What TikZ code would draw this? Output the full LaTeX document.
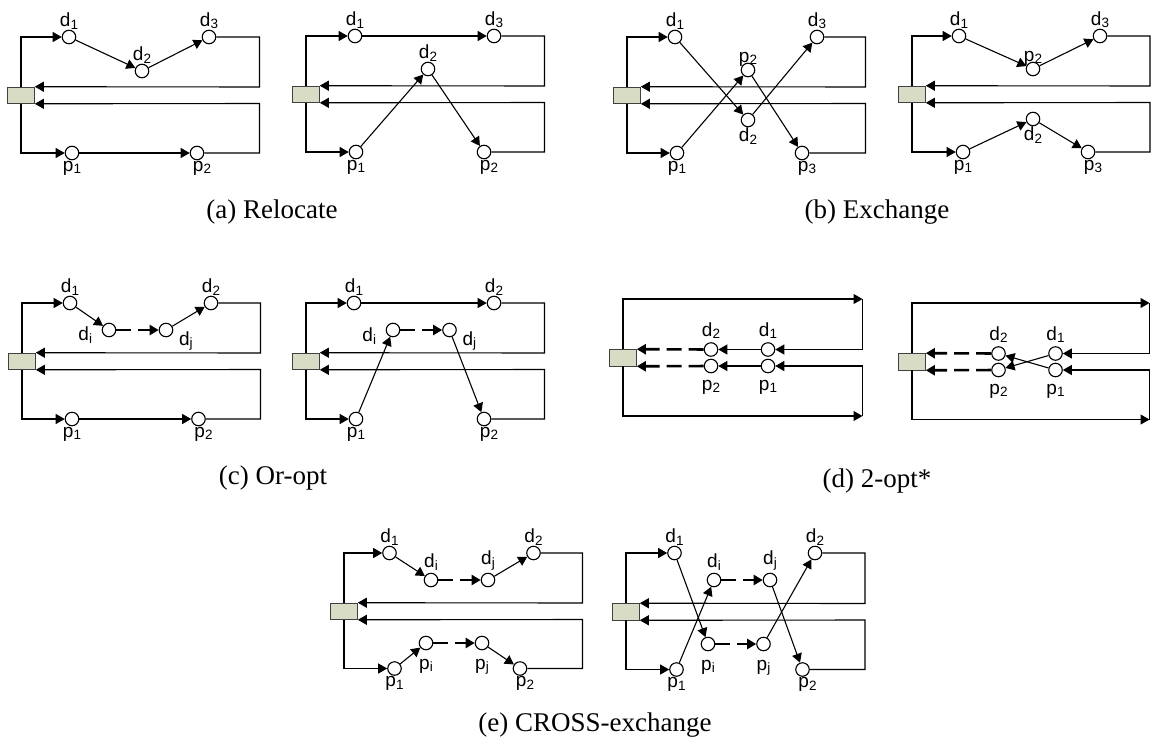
\documentclass[tikz,border=0pt]{standalone}
\usepackage{fontspec}
\setmainfont{Liberation Serif}
\newfontfamily\sansfam{Liberation Sans}
\usetikzlibrary{arrows.meta}
\definecolor{depotgreen}{RGB}{216,220,196}
\newcommand{\labsize}{\sansfam\fontsize{19}{20}\selectfont}
\newcommand{\capsize}{\fontsize{27}{30}\selectfont}
\newcommand{\lsub}[1]{\raisebox{-2.5pt}{\fontsize{13.5}{14}\selectfont #1}}

\begin{document}
\begin{tikzpicture}[x=1pt,y=-1pt,line join=miter,
  stop/.style={circle,draw,fill=white,line width=1.1pt,minimum size=13.5pt,inner sep=0pt},
  depot/.style={draw=black!75,fill=depotgreen,line width=0.6pt,minimum width=27pt,minimum height=16.5pt,inner sep=0pt},
  go/.style={line width=1.1pt,-{Triangle[length=9pt,width=10pt]}},
  link/.style={go,line width=2.6pt,dash pattern=on 15pt off 7pt},
  lab/.style={font=\labsize,inner sep=0.5pt},
  captext/.style={font=\capsize,anchor=base}]
  \useasboundingbox (0,0) rectangle (1154,745);

  % (a) relocate, before
  \begin{scope}[shift={(21,37)}]
    \node[depot] (dep) at (0,58.25) {};
    \node[stop,label={[lab]above:d\lsub{1}}] (d1) at (48,0) {};
    \node[stop,label={[lab]above:d\lsub{2}}] (d2) at (121,34) {};
    \node[stop,label={[lab]above:d\lsub{3}}] (d3) at (188,0) {};
    \node[stop,label={[lab]below:p\lsub{1}}] (p1) at (51,116) {};
    \node[stop,label={[lab,xshift=5pt]below:p\lsub{2}}] (p2) at (176,116) {};
    \draw[go] (dep.north) |- (d1); \draw[go] (d1) -- (d2); \draw[go] (d2) -- (d3);
    \draw[go] (d3) -| (238.5,50) -- (dep.north east);
    \draw[go] (dep.south) |- (p1); \draw[go] (p1) -- (p2);
    \draw[go] (p2) -| (238.5,66.5) -- (dep.south east);
  \end{scope}
  % (a) relocate, after
  \begin{scope}[shift={(306,36)}]
    \node[depot] (dep) at (0,58.25) {};
    \node[stop,label={[lab]above:d\lsub{1}}] (d1) at (49,0) {};
    \node[stop,label={[lab]above:d\lsub{2}}] (d2) at (122,33) {};
    \node[stop,label={[lab]above:d\lsub{3}}] (d3) at (188,0) {};
    \node[stop,label={[lab]below:p\lsub{1}}] (p1) at (50,116) {};
    \node[stop,label={[lab,xshift=5pt]below:p\lsub{2}}] (p2) at (178,116) {};
    \draw[go] (dep.north) |- (d1); \draw[go] (d1) -- (d3);
    \draw[go] (d3) -| (238.5,50) -- (dep.north east);
    \draw[go] (dep.south) |- (p1); \draw[go] (p1) -- (d2); \draw[go] (d2) -- (p2);
    \draw[go] (p2) -| (238.5,66.5) -- (dep.south east);
  \end{scope}
  \node[captext] (capa) at (272,218) {(a) Relocate};

  % (b) exchange, before
  \begin{scope}[shift={(627,37)}]
    \node[depot] (dep) at (0,58.25) {};
    \node[stop,label={[lab]above:d\lsub{1}}] (d1) at (48,0) {};
    \node[stop,label={[lab]below:d\lsub{2}}] (d2) at (121,83) {};
    \node[stop,label={[lab]above:d\lsub{3}}] (d3) at (190,0) {};
    \node[stop,label={[lab]below:p\lsub{1}}] (p1) at (50,116) {};
    \node[stop,label={[lab,yshift=-4pt]above:p\lsub{2}}] (p2) at (121,33) {};
    \node[stop,label={[lab,xshift=5pt]below:p\lsub{3}}] (p3) at (175,116) {};
    \draw[go] (dep.north) |- (d1); \draw[go] (d1) -- (d2); \draw[go] (d2) -- (d3);
    \draw[go] (d3) -| (238.5,50) -- (dep.north east);
    \draw[go] (dep.south) |- (p1); \draw[go] (p1) -- (p2); \draw[go] (p2) -- (p3);
    \draw[go] (p3) -| (238.5,66.5) -- (dep.south east);
  \end{scope}
  % (b) exchange, after
  \begin{scope}[shift={(912,36)}]
    \node[depot] (dep) at (0,58.25) {};
    \node[stop,label={[lab]above:d\lsub{1}}] (d1) at (47,0) {};
    \node[stop,label={[lab]below:d\lsub{2}}] (d2) at (121,83) {};
    \node[stop,label={[lab]above:d\lsub{3}}] (d3) at (188,0) {};
    \node[stop,label={[lab]below:p\lsub{1}}] (p1) at (51,116) {};
    \node[stop,label={[lab,yshift=-4pt]above:p\lsub{2}}] (p2) at (121,33) {};
    \node[stop,label={[lab,xshift=5pt]below:p\lsub{3}}] (p3) at (176,116) {};
    \draw[go] (dep.north) |- (d1); \draw[go] (d1) -- (p2); \draw[go] (p2) -- (d3);
    \draw[go] (d3) -| (238,50) -- (dep.north east);
    \draw[go] (dep.south) |- (p1); \draw[go] (p1) -- (d2); \draw[go] (d2) -- (p3);
    \draw[go] (p3) -| (238,66.5) -- (dep.south east);
  \end{scope}
  \node[captext] (capb) at (877,218) {(b) Exchange};

  % (c) or-opt, before
  \begin{scope}[shift={(22,303)}]
    \node[depot] (dep) at (0,58.25) {};
    \node[stop,label={[lab]above:d\lsub{1}}] (d1) at (48,0) {};
    \node[stop,label={[lab,xshift=-9pt,yshift=-5pt]left:d\lsub{i}}] (di) at (87,27) {};
    \node[stop,label={[lab,xshift=5pt,yshift=-11pt]right:d\lsub{j}}] (dj) at (144,27) {};
    \node[stop,label={[lab]above:d\lsub{2}}] (d2) at (189,0) {};
    \node[stop,label={[lab]below:p\lsub{1}}] (p1) at (50,116) {};
    \node[stop,label={[lab,xshift=5pt]below:p\lsub{2}}] (p2) at (176.5,116) {};
    \draw[go] (dep.north) |- (d1); \draw[go] (d1) -- (di); \draw[link] (di) -- (dj);
    \draw[go] (dj) -- (d2);
    \draw[go] (d2) -| (238.5,50) -- (dep.north east);
    \draw[go] (dep.south) |- (p1); \draw[go] (p1) -- (p2);
    \draw[go] (p2) -| (238.5,66.5) -- (dep.south east);
  \end{scope}
  % (c) or-opt, after
  \begin{scope}[shift={(306,303)}]
    \node[depot] (dep) at (0,58.25) {};
    \node[stop,label={[lab]above:d\lsub{1}}] (d1) at (48,0) {};
    \node[stop,label={[lab,xshift=-9pt,yshift=-6pt]left:d\lsub{i}}] (di) at (87,27) {};
    \node[stop,label={[lab,xshift=5pt,yshift=-11pt]right:d\lsub{j}}] (dj) at (143.5,27) {};
    \node[stop,label={[lab]above:d\lsub{2}}] (d2) at (188,0) {};
    \node[stop,label={[lab]below:p\lsub{1}}] (p1) at (50,116) {};
    \node[stop,label={[lab,xshift=5pt]below:p\lsub{2}}] (p2) at (178,116) {};
    \draw[go] (dep.north) |- (d1); \draw[go] (d1) -- (d2);
    \draw[go] (d2) -| (238.5,50) -- (dep.north east);
    \draw[go] (dep.south) |- (p1); \draw[go] (p1) -- (di); \draw[link] (di) -- (dj);
    \draw[go] (dj) -- (p2);
    \draw[go] (p2) -| (238.5,66.5) -- (dep.south east);
  \end{scope}
  \node[captext] (capc) at (273,484) {(c) Or-opt};

  % (d) 2-opt*, before
  \begin{scope}[shift={(623,299)}]
    \node[depot] (dep) at (0,58.75) {};
    \coordinate (tr) at (239.5,0); \coordinate (br) at (239.5,117);
    \node[stop,label={[lab,yshift=3pt]above:d\lsub{1}}] (d1) at (145,50.5) {};
    \node[stop,label={[lab,yshift=3pt]above:d\lsub{2}}] (d2) at (88,50.5) {};
    \node[stop,label={[lab,yshift=-6pt]below:p\lsub{1}}] (p1) at (145,67) {};
    \node[stop,label={[lab,yshift=-6pt]below:p\lsub{2}}] (p2) at (88,67) {};
    \draw[go] (dep.north) |- (tr); \draw[go] (tr) |- (d1); \draw[go] (d1) -- (d2);
    \draw[link] (d2) -- (dep.north east);
    \draw[go] (dep.south) |- (br); \draw[go] (br) |- (p1); \draw[go] (p1) -- (p2);
    \draw[link] (p2) -- (dep.south east);
  \end{scope}
  % (d) 2-opt*, after
  \begin{scope}[shift={(912,303)}]
    \node[depot] (dep) at (0,58.75) {};
    \coordinate (tr) at (237.5,0); \coordinate (br) at (237.5,116.5);
    \node[stop,label={[lab,yshift=3pt]above:d\lsub{1}}] (d1) at (143.5,50.5) {};
    \node[stop,label={[lab,yshift=3pt]above:d\lsub{2}}] (d2) at (86.5,50.5) {};
    \node[stop,label={[lab,yshift=-6pt]below:p\lsub{1}}] (p1) at (143.5,67) {};
    \node[stop,label={[lab,yshift=-6pt]below:p\lsub{2}}] (p2) at (86.5,67) {};
    \draw[go] (dep.north) |- (tr); \draw[go] (tr) |- (d1); \draw[go] (d1) -- (p2);
    \draw[link] (d2) -- (dep.north east);
    \draw[go] (dep.south) |- (br); \draw[go] (br) |- (p1); \draw[go] (p1) -- (d2);
    \draw[link] (p2) -- (dep.south east);
  \end{scope}
  \node[captext] (capd) at (877,487) {(d) 2-opt*};

  % (e) cross-exchange, before
  \begin{scope}[shift={(344,553)}]
    \node[depot] (dep) at (0,58.25) {};
    \node[stop,label={[lab]above:d\lsub{1}}] (d1) at (45.5,0) {};
    \node[stop,label={[lab,yshift=2pt]above:d\lsub{i}}] (di) at (87,27) {};
    \node[stop,label={[lab,yshift=2pt]above:d\lsub{j}}] (dj) at (144,27) {};
    \node[stop,label={[lab]above:d\lsub{2}}] (d2) at (189.5,0) {};
    \node[stop,label={[lab]below:p\lsub{1}}] (p1) at (50.5,115.5) {};
    \node[stop,label={[lab,yshift=-8pt]below:p\lsub{i}}] (pi) at (82,90) {};
    \node[stop,label={[lab,yshift=-8pt]below:p\lsub{j}}] (pj) at (138,90) {};
    \node[stop,label={[lab,xshift=5pt]below:p\lsub{2}}] (p2) at (176,115.5) {};
    \draw[go] (dep.north) |- (d1); \draw[go] (d1) -- (di); \draw[link] (di) -- (dj);
    \draw[go] (dj) -- (d2);
    \draw[go] (d2) -| (238.5,50) -- (dep.north east);
    \draw[go] (dep.south) |- (p1); \draw[go] (p1) -- (pi); \draw[link] (pi) -- (pj);
    \draw[go] (pj) -- (p2);
    \draw[go] (p2) -| (238.5,66.5) -- (dep.south east);
  \end{scope}
  % (e) cross-exchange, after
  \begin{scope}[shift={(626,553)}]
    \node[depot] (dep) at (0,58.75) {};
    \node[stop,label={[lab]above:d\lsub{1}}] (d1) at (48.5,0) {};
    \node[stop,label={[lab,yshift=2pt]above:d\lsub{i}}] (di) at (88,27) {};
    \node[stop,label={[lab,yshift=2pt]above:d\lsub{j}}] (dj) at (144,27) {};
    \node[stop,label={[lab]above:d\lsub{2}}] (d2) at (189,0) {};
    \node[stop,label={[lab]below:p\lsub{1}}] (p1) at (50.5,116.5) {};
    \node[stop,label={[lab,yshift=-8pt]below:p\lsub{i}}] (pi) at (82,91) {};
    \node[stop,label={[lab,yshift=-8pt]below:p\lsub{j}}] (pj) at (137.5,91) {};
    \node[stop,label={[lab,xshift=5pt]below:p\lsub{2}}] (p2) at (176.5,116.5) {};
    \draw[go] (dep.north) |- (d1); \draw[go] (d1) -- (pi); \draw[link] (pi) -- (pj);
    \draw[go] (pj) -- (d2);
    \draw[go] (d2) -| (239,50.5) -- (dep.north east);
    \draw[go] (dep.south) |- (p1); \draw[go] (p1) -- (di); \draw[link] (di) -- (dj);
    \draw[go] (dj) -- (p2);
    \draw[go] (p2) -| (239,67) -- (dep.south east);
  \end{scope}
  \node[captext] (cape) at (595,731.5) {(e) CROSS-exchange};
\end{tikzpicture}
\end{document}
